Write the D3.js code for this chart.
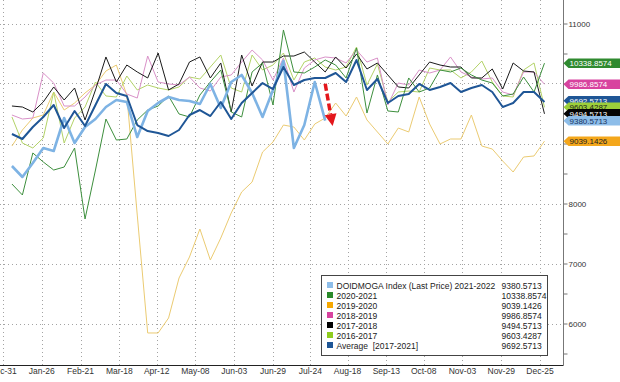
<!DOCTYPE html>
<html>
<head>
<meta charset="utf-8">
<script src="https://cdn.jsdelivr.net/npm/d3@7"></script>
<style>
  body { margin: 0; background: #fff; }
  svg { display: block; font-family: "Liberation Sans", Arial, sans-serif; }
</style>
</head>
<body>
<div class="chart"></div>
<script>
// x axis tick labels (Bloomberg seasonality axis, leap-year calendar)
const tickLabels = ["Dec-31", "Jan-26", "Feb-21", "Mar-18", "Apr-12", "May-08", "Jun-03", "Jun-29",
  "Jul-24", "Aug-18", "Sep-13", "Oct-08", "Nov-03", "Nov-29", "Dec-25"];
const yTicks = [6000, 7000, 8000, 9000, 10000, 11000];
const firstWeek = "2020-01-06";

// weekly values
const s2122 = [8625, 8442, 8675, 8925, 8875, 9425, 9008, 9275, 9408, 9608, 9725, 9692, 9108, 9542, 9675,
  9775, 9725, 9708, 9658, 9992, 9592, 10025, 10142, 9842, 9442, 9892, 10375, 8925, 9308, 10025, 9380.5713];
const s2021 = [8325, 8142, 8842, 8692, 8558, 8608, 8925, 7742, 8558, 9408, 9058, 9075, 9392, 9558, 9625,
  9792, 9492, 9442, 9808, 10025, 10225, 9525, 9442, 10192, 10342, 9642, 10892, 10192, 10175, 10275, 10392,
  10308, 10092, 10592, 9508, 10142, 9542, 9525, 10092, 9858, 9925, 10225, 10192, 10258, 10142, 10058, 10008,
  9792, 9825, 10108, 9858, 10338.8574];
const s1920 = [8958, 9225, 9425, 9475, 9858, 9558, 9675, 9842, 9975, 10208, 10308, 9808, 7808, 5842, 5842,
  6092, 6758, 7108, 7575, 7058, 7425, 7842, 8192, 8358, 8858, 9025, 9308, 9275, 9058, 9325, 9425,
  9675, 9458, 9775, 9392, 9192, 8992, 9258, 9192, 9775, 9325, 8992, 9075, 9075, 9475, 8958, 8908,
  8708, 8525, 8775, 8792, 9039.1426];
const s1819 = [9475, 9408, 9425, 10175, 10008, 9625, 9625, 9775, 9975, 10058, 10058, 9825, 9758, 10458, 10025,
  9992, 9975, 10108, 9925, 9875, 10108, 10142, 10358, 10558, 10392, 10058, 10425, 9858, 10258, 10392, 10442,
  10425, 10342, 10558, 10358, 10425, 9642, 10008, 9975, 10225, 10175, 10225, 10442, 10192, 10108, 10075, 10092,
  9858, 9808, 10192, 10192, 9986.8574];
const s1718 = [9625, 9608, 9525, 9692, 9942, 9725, 9925, 9392, 9892, 10442, 10025, 10308, 10192, 10092, 10508,
  9892, 9992, 10358, 10442, 10092, 10342, 9525, 10475, 9958, 10358, 10358, 10458, 10458, 10525, 10358, 10192,
  10442, 10258, 10492, 10242, 10342, 10142, 9942, 9925, 10142, 10358, 10308, 10275, 10275, 10092, 10092, 10242,
  9908, 10342, 10208, 10192, 9494.5713];
const s1617 = [9442, 9008, 8925, 9092, 9858, 9008, 9425, 9608, 10025, 9792, 9775, 10125, 9892, 9975, 9925,
  9892, 9942, 10108, 10075, 10275, 10475, 9925, 9858, 10475, 10225, 10308, 10508, 10058, 10358, 10425, 10275,
  10225, 10275, 10608, 9975, 10325, 9692, 9858, 9875, 9858, 10258, 10225, 10225, 10092, 10192, 10375, 10025,
  9792, 9775, 10225, 10342, 9603.4287];
const sAvg = [9158, 9075, 9275, 9442, 9642, 9258, 9542, 9292, 9642, 9992, 9842, 9792, 9308, 9208, 9175,
  9125, 9225, 9475, 9558, 9458, 9692, 9408, 9675, 9842, 10008, 9908, 10275, 9975, 10058, 10092, 10092,
  10175, 10025, 10392, 9892, 10075, 9675, 9792, 9825, 9992, 9892, 9942, 10008, 9858, 9925, 9975, 9858,
  9608, 9675, 9858, 9858, 9692.5713];

const legendNames = ["DOIDMOGA Index (Last Price) 2021-2022", "2020-2021", "2019-2020", "2018-2019",
  "2017-2018", "2016-2017", "Average  [2017-2021]"];

const w = 620, h = 382;

const series = [
  {name: legendNames[0], data: s2122, line: "#7eb3e4", sw: "#8dbde9", tag: "#8dbde9", txt: "#1b3460", width: 2.6},
  {name: legendNames[1], data: s2021, line: "#3d8f3d", sw: "#2a8a2a", tag: "#2f8a2f", txt: "#fff", width: 1},
  {name: legendNames[2], data: s1920, line: "#ebcb72", sw: "#f7a800", tag: "#f4a71c", txt: "#222", width: 1},
  {name: legendNames[3], data: s1819, line: "#d991c8", sw: "#d8439f", tag: "#d8439f", txt: "#fff", width: 1},
  {name: legendNames[4], data: s1718, line: "#1a1a1a", sw: "#000", tag: "#050505", txt: "#fff", width: 1},
  {name: legendNames[5], data: s1617, line: "#b3d368", sw: "#8fcc1e", tag: "#9ccf3a", txt: "#1a1a1a", width: 1},
  {name: legendNames[6], data: sAvg, line: "#1f5696", sw: "#1f5696", tag: "#1f5696", txt: "#fff", width: 2}
];

const svg = d3.select(".chart").append("svg")
  .attr("width", w)
  .attr("height", h);

const parseTick = d3.timeParse("%b-%d-%Y");
const tickDates = tickLabels.map((t, i) => parseTick(t + (i == 0 ? "-2019" : "-2020")));
const start = d3.timeParse("%Y-%m-%d")(firstWeek);
const weekDate = i => d3.timeDay.offset(start, 7 * i);

const x = d3.scaleTime()
  .domain([tickDates[0], tickDates[tickDates.length - 1]])
  .range([3, 540]);

const y = d3.scaleLinear()
  .domain([6000, 11000])
  .range([323.5, 23.5]);

const axisX = 563, axisY = 365.5;

// grid
const grid = svg.append("g").attr("class", "grid")
  .attr("stroke", "#a3a3a3")
  .attr("stroke-dasharray", "1,3");
grid.selectAll(".hgrid")
  .data(yTicks)
  .enter().append("line")
  .attr("x1", 0).attr("x2", axisX)
  .attr("y1", d => Math.round(y(d)) + 0.5)
  .attr("y2", d => Math.round(y(d)) + 0.5);
grid.selectAll(".vgrid")
  .data(tickDates)
  .enter().append("line")
  .attr("x1", d => Math.round(x(d)) + 0.5)
  .attr("x2", d => Math.round(x(d)) + 0.5)
  .attr("y1", 0).attr("y2", axisY);

// lines (drawn back to front)
const line = d3.line()
  .x((d, i) => x(weekDate(i)))
  .y(d => y(d));

const drawOrder = [2, 5, 3, 4, 1, 0, 6];
svg.append("g").selectAll("path")
  .data(drawOrder.map(k => series[k]))
  .enter().append("path")
  .attr("fill", "none")
  .attr("stroke", d => d.line)
  .attr("stroke-width", d => d.width)
  .attr("stroke-linejoin", "round")
  .attr("d", d => line(d.data));

// red annotation arrow
const a0 = [x(weekDate(30)), y(9995)];
const a1 = [x(weekDate(30.85)), y(9290)];
const dx = a1[0] - a0[0], dy = a1[1] - a0[1];
const len = Math.hypot(dx, dy), ux = dx / len, uy = dy / len;
const headL = 12, headW = 6;
const base = [a1[0] - ux * headL, a1[1] - uy * headL];
svg.append("line")
  .attr("x1", a0[0]).attr("y1", a0[1])
  .attr("x2", base[0]).attr("y2", base[1])
  .attr("stroke", "#e3161b")
  .attr("stroke-width", 3.5)
  .attr("stroke-dasharray", "7,3");
svg.append("path")
  .attr("fill", "#e3161b")
  .attr("d", "M" + a1 + "L" + [base[0] - uy * headW, base[1] + ux * headW] +
    "L" + [base[0] + uy * headW, base[1] - ux * headW] + "Z");

// right-hand value tags, pushed apart from the bottom up
const tagH = 9.5, minGap = 6.5;
const tags = series.map(s => ({s: s, v: s.data[s.data.length - 1]}))
  .sort((a, b) => a.v - b.v);
tags.forEach((t, i) => {
  t.y = y(t.v);
  if (i > 0) t.y = Math.min(t.y, tags[i - 1].y - minGap);
});
//a tick label sitting under a tag is hidden, as in the terminal
const underTag = v => tags.some(t => Math.abs(t.y - y(v)) < tagH / 2 + 3);

// axes
svg.append("line")
  .attr("x1", 0).attr("x2", axisX + 0.5)
  .attr("y1", axisY).attr("y2", axisY)
  .attr("stroke", "#222");
svg.append("line")
  .attr("x1", axisX + 0.5).attr("x2", axisX + 0.5)
  .attr("y1", 0).attr("y2", axisY)
  .attr("stroke", "#777");

const yAxis = d3.axisRight(y)
  .tickValues(d3.range(5500, 11500, 500))
  .tickSize(4)
  .tickFormat(d => d % 1000 == 0 && !underTag(d) ? d : "");
const gy = svg.append("g")
  .attr("transform", "translate(" + (axisX + 0.5) + ",0)")
  .call(yAxis);
gy.select(".domain").remove();
gy.selectAll(".tick line").attr("stroke", "#777");
gy.selectAll("text")
  .attr("x", 5)
  .attr("fill", "#333")
  .style("font-size", "8px")
  .style("font-family", "Liberation Sans, Arial, sans-serif");

const fmt = d3.timeFormat("%b-%d");
svg.append("g").selectAll("text")
  .data(tickDates)
  .enter().append("text")
  .attr("x", d => x(d))
  .attr("y", 374)
  .attr("text-anchor", "middle")
  .attr("fill", "#333")
  .style("font-size", "8.5px")
  .text(d => fmt(d));

const tagOrder = [6, 5, 4, 0, 3, 1, 2];
const tg = svg.append("g").selectAll("g")
  .data(tagOrder.map(k => tags.find(t => t.s === series[k])))
  .enter().append("g")
  .attr("transform", d => "translate(" + (axisX + 0.5) + "," + d.y + ")");
tg.append("path")
  .attr("fill", d => d.s.tag)
  .attr("d", "M0,0L5," + (-tagH / 2) + "H70V" + (tagH / 2) + "H5Z");
tg.append("text")
  .attr("x", 6)
  .attr("y", 3)
  .attr("fill", d => d.s.txt)
  .style("font-size", "8px")
  .text(d => d.v.toFixed(4));

// legend
const lg = svg.append("g").attr("transform", "translate(321.5,275.5)");
lg.append("rect")
  .attr("width", 226).attr("height", 80)
  .attr("fill", "#fff")
  .attr("stroke", "#444");
const rows = lg.selectAll(".row")
  .data(series)
  .enter().append("g")
  .attr("transform", (d, i) => "translate(0," + (10 + i * 10) + ")");
rows.append("rect")
  .attr("x", 5.5).attr("y", -3.5)
  .attr("width", 6).attr("height", 6)
  .attr("fill", d => d.sw);
rows.append("text")
  .attr("x", 15).attr("y", 3)
  .attr("fill", "#222")
  .style("font-size", "8.5px")
  .style("white-space", "pre")
  .text(d => d.name);
rows.append("text")
  .attr("x", 180).attr("y", 3)
  .attr("fill", "#222")
  .style("font-size", "8.5px")
  .text(d => d.data[d.data.length - 1].toFixed(4));
</script>
</body>
</html>
